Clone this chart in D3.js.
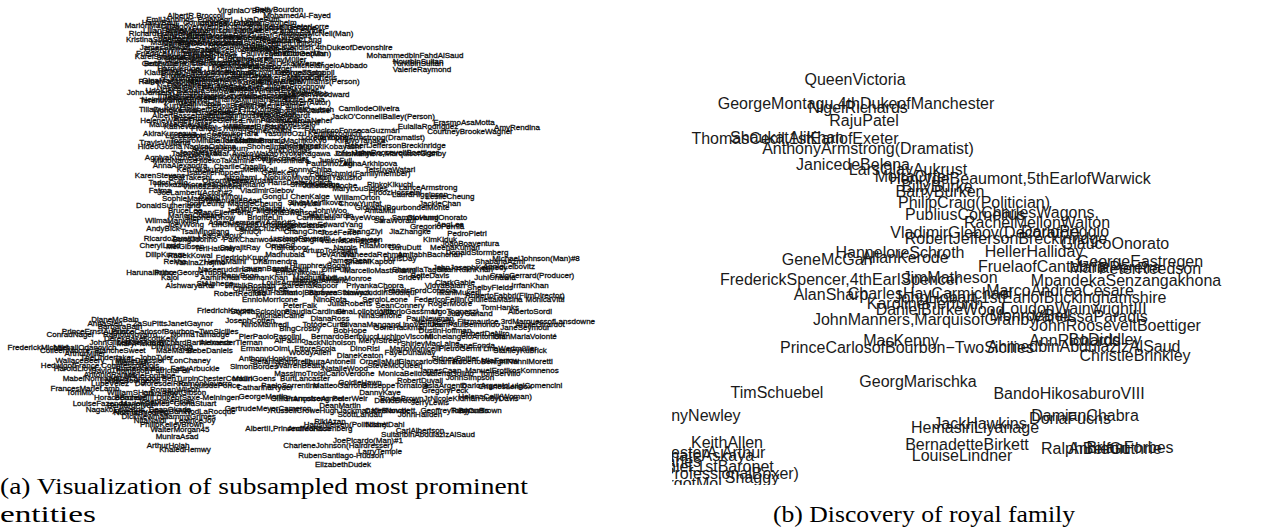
<!DOCTYPE html>
<html>
<head>
<meta charset="utf-8">
<script src="https://cdn.jsdelivr.net/npm/d3@7"></script>
<style>
  html, body { margin: 0; padding: 0; background: #fff; }
  svg { display: block; }
</style>
</head>
<body>
<svg id="fig" width="1264" height="531"></svg>
<script>
// Entity embeddings, two panels. Each entry: [name, x, y] in embedding units.

// (a) subsampled most prominent entities — upper block
const topEntities = [
  ["AlbertR.Broccoli",19.6,1.5],["VirginiaO'Brien",24.4,1.0],["BettyBourdon",27.9,0.9],["MohamedAl-Fayed",29.7,1.5],
  ["MarionMarshall",15.2,2.5],["CharlesIofAustria",23.0,2.3],["LouisE.Gelsone",28.8,2.7],["AnthonyMcNeil(Man)",31.6,3.3],
  ["RichardHoratioNelson",16.8,3.3],["JanPeerce",17.8,3.8],["HughGrosvenor",21.5,3.6],["PeterSellers",24.5,3.7],
  ["FredAstaire",28.0,4.0],["EdwardWoodward",21.0,4.2],["WilliamCavendish,4thDukeofDevonshire",32.1,4.7],
  ["JamesStewart",16.5,4.7],["RobertMitchum",23.5,4.5],["CaryGrant",20.0,5.0],["MohammedbinFahdAlSaud",41.5,5.5],
  ["MarkCohen(Man)",30.0,5.3],["KarelSvoboda",16.0,5.6],["ElizabethTaylor",21.0,5.5],["SophiaLoren",25.0,5.8],
  ["NourbinSultan",41.8,6.1],["TurkibinSultan",41.8,6.3],["ValerieRaymond",42.2,6.9],["MichelangeloAbbado",33.0,6.5],
  ["BobbyDarin",16.5,6.3],["EllaFitzgerald",21.5,6.2],["GretaGarbo",26.0,6.6],["GeorgeZastoupil",30.5,7.2],
  ["HenryFonda",18.0,7.0],["IngridBergman",23.0,7.2],["MarcoCarteris",31.2,7.7],["BrianWilliams(Person)",32.0,8.1],
  ["OlgaMakarova",16.8,8.0],["RitaHayworth",21.5,7.9],["KarenBlixen",26.0,8.2],["JohnJansen(Director)",16.5,9.2],
  ["FrankSinatra",22.5,8.8],["ElizabethWoodward",31.4,9.4],["EddieGibb",31.0,9.3],["TerentiyShtykov",16.8,10.0],
  ["ClarenceDown",22.5,9.6],["AlbertEinstein",27.0,9.6],["JeanMarais",20.0,10.3],["FilmMaker(Actor)",30.0,10.2],
  ["WongKarwai",17.5,11.0],["CamilodeOliveira",36.9,10.8],["SanchoIofCastile",30.0,11.0],["NelsonSaah",27.5,11.4],
  ["GraceKelly",21.5,11.2],["JackO'ConnellBailey(Person)",38.3,11.6],["AdolfRubin",28.0,11.9],["RobertoRossellini",20.5,11.8],
  ["AnnaMagnani",19.0,3.0],["LouisJouvet",24.0,3.0],["MarcelPagnol",17.5,4.2],["JeanGabin",26.0,4.8],
  ["SimoneSignoret",18.5,5.7],["YvesMontand",23.5,6.5],["BrigitteBardot",18.5,7.5],["AlainDelon",25.0,7.5],
  ["CatherineDeneuve",20.0,8.5],["GérardDepardieu",26.5,8.8],["JeanneMoreau",19.0,9.7],["ÉdithPiaf",25.0,10.4],
  ["CharlesAznavour",24.0,11.2],["MauriceChevalier",18.0,12.4]
];

// (a) upper block, second layer
const topEntities2 = [
  ["EmilJannings",17.0,1.9],["PolaNegri",21.5,1.9],["LyaDePutti",26.0,1.9],
  ["HarryBaur",16.0,2.2],["ConradVeidt",20.5,2.2],["ErichvonStroheim",26.5,2.2],
  ["LilDagover",18.0,2.6],["WernerKrauss",22.5,2.6],["BrigitteHelm",27.0,2.6],["PeterLorre",31.0,2.6],
  ["LilianHarvey",16.5,3.0],["WillyFritsch",21.0,3.0],["HansAlbers",25.5,3.0],["ZarahLeander",30.0,3.0],
  ["HeinzRühmann",18.5,3.5],["MarikaRökk",23.0,3.5],["GustafGründgens",28.0,3.5],
  ["KristinaSöderbaum",16.0,3.9],["VeitHarlan",21.5,3.9],["LeniRiefenstahl",26.0,3.9],["FritzLang",30.5,3.9],
  ["MarleneDietrich",19.0,4.3],["JosefvonSternberg",24.5,4.3],["ErnstLubitsch",29.5,4.3],
  ["GeorgWilhelmPabst",18.0,4.9],["LouiseBrooks",23.0,4.9],["AstaNielsen",27.5,4.9],
  ["FriedrichMurnau",16.5,5.3],["MaxSchreck",21.5,5.3],["PaulWegener",26.5,5.3],["OttoGebühr",30.5,5.3],
  ["HildegardKnef",19.0,5.9],["CurdJürgens",24.0,5.9],["RomyMüller",28.5,5.9],
  ["GertFröbe",16.0,6.3],["HorstBuchholz",20.5,6.3],["MariaSchell",25.5,6.3],["OskarWerner",30.0,6.3],
  ["HardyKrüger",18.0,6.8],["LiloPulver",22.5,6.8],["SentaBerger",27.0,6.8],
  ["KlausKinski",16.5,7.2],["MarioAdorf",21.0,7.2],["HannaSchygulla",25.5,7.2],["BrunoGanz",30.5,7.2],
  ["WimWenders",19.5,7.7],["WernerHerzog",24.5,7.7],["VolkerSchlöndorff",29.0,7.7],
  ["RainerFassbinder",17.0,8.1],["MargarethevonTrotta",22.5,8.1],["ArminMueller",28.0,8.1],
  ["NastassjaKinski",18.5,8.6],["MarthaKeller",24.0,8.6],["JürgenProchnow",29.5,8.6],
  ["UdoKier",16.0,9.0],["BarbaraSukowa",20.5,9.0],["AngelaWinkler",25.5,9.0],["EvaMattes",30.0,9.0],
  ["IrmHermann",18.0,9.5],["IngridCaven",22.5,9.5],["UllaJacobsson",27.0,9.5],
  ["HelmutGriem",16.5,9.9],["ErikaPluhar",21.0,9.9],["MaximilianSchell",26.0,9.9],["LotteLenya",30.5,9.9],
  ["KurtWeill",18.0,10.5],["BertoltBrecht",23.0,10.5],["HelenePalmer",28.0,10.5],
  ["TillaDurieux",16.0,10.9],["ElisabethBergner",21.0,10.9],["FritzKortner",26.0,10.9],["ErnstDeutsch",31.0,10.9],
  ["AlbertBassermann",18.5,11.5],["EmilJanningsJr",23.5,11.5],["MaxReinhardt",28.5,11.5],
  ["HeleneWeigel",16.5,12.0],["ThereseGiehse",21.5,12.0],["ErwinPiscator",26.5,12.0],["CarolaNeher",31.0,12.0],
  ["KäthevonNagy",19.0,12.6],["WilliForst",24.0,12.6],["PaulaWessely",29.0,12.6]
];

// (a) middle block
const midEntities = [
  ["EulaliaRodriguez",42.8,12.6],["ErasmoAsaMotta",46.4,12.2],["AmyRendina",51.7,12.7],["CourtneyBrookeWagner",47.0,13.1],
  ["MichaelBrodsky",25.7,12.6],["FranciscoFonsecaGuzmán",35.2,13.0],["AnthonyArmstrong(Dramatist)",37.2,13.7],
  ["LorettaYoung",32.5,13.7],["RobertJeffersonBreckinridge",39.5,14.5],["JohnRooseveltBoettiger",39.6,15.2],
  ["JohnManners,MarquisofGranby",39.0,15.3],["TravisWilliams",16.5,14.2],["LeopoldStokowski",21.0,13.5],
  ["MarlonBrando",26.0,14.0],["AudreyHepburn",22.0,14.8],["KirkDouglas",29.0,15.0],["AgniyaKuznetsova",17.8,15.7],
  ["VivienLeigh",25.0,15.6],["AnnaAlexandra",18.0,16.5],["PaulDinoZegl",33.0,16.3],["AnnaArkhipova",37.0,16.3],
  ["CharlieChaplin",24.0,16.6],["KarenStevens",16.0,17.5],["PaulSchmid(Familymember)",36.0,17.3],["GeneKelly",28.0,17.2],
  ["TodorCvijic",16.8,18.2],["HansDieterAldrich",30.0,18.2],["OrsonWelles",22.5,18.0],["Fatma",16.0,19.0],
  ["JoeLambert(Actor)#2",19.5,19.2],["VladimirGlebov",26.7,19.0],["MaryLouSiddes",36.0,18.8],["LanceArmstrong",42.8,18.7],
  ["FiroozHosseini",39.5,19.2],["LauraHigginson",42.0,19.4],["VilmosZsigmond",21.2,18.6],["WilliamOrton",35.7,19.7],
  ["SilviaMelnikova",31.5,20.2],["DonaldSutherland",16.8,20.5],["GiovanniBourbondelMonte",40.2,20.7],
  ["MaryEllenPorter",22.5,21.2],["GloriaSwanson",29.0,21.2],["WilmaMankiller",17.2,22.0],["AdamDempsey(Actor)#2",25.2,22.2],
  ["SaraWorauf",39.5,22.0],["GiovanniOnorato",43.7,21.7],["AndyBick",16.3,22.8],["CarlosCruzRibes",26.5,22.8],
  ["GregorioPernia",43.7,22.6],["RicardoZarattini",17.2,23.8],["PedroPietri",46.7,23.3],["JoséFerrer",34.0,23.2],
  ["LucianoPavarotti",30.0,23.8],["CherylLadd",16.0,24.5],["MelGibson",18.5,24.6],["TeriHatcher",21.5,24.8],
  ["JoãoBoaventura",47.0,24.3],["RitaMoreno",38.0,24.5],["ArturoToscanini",33.0,25.0],["DonaldStormberg",47.7,25.2],
  ["RadekKowal",19.0,25.5],["FriedrichKrupp",24.2,25.7],["MichaelJohnson(Man)#8",53.6,25.8],["YaninaZhejmo",20.0,26.2],
  ["AnnieLeibovitz",50.9,26.6],["JohnJosephKennedy",47.0,26.7],["PrinceGeorgeTupou",19.0,27.2],["ErnstNikolaus",30.0,27.2],
  ["HarunaIikubo",15.0,27.2],["CraigGerrard(Producer)",53.2,27.5],["MarcelloMastroianni",38.0,27.0],["StAlphege",21.5,28.3],
  ["LouisArmstrong",29.0,28.2],["ShelbyFields",49.0,28.7],["ChristopherLee",26.0,28.8],["RobertRedford",24.0,29.3],
  ["RobertoFabbri(FilmDirector)",51.5,29.5],["BarbaraStanwyck",34.0,29.2],["FrancisFordCoppola",42.0,29.0],
  ["JamesDean",35.0,26.0],["DorisDay",40.0,25.8],["BetteDavis",43.0,27.5],["HumphreyBogart",32.0,26.5],
  ["LaurenBacall",26.5,26.8],["ClarkGable",45.5,28.2],["MarilynMonroe",34.5,27.8],
  ["FrançoisTruffaut",22.0,12.8],["JeanRenoir",30.0,12.2],["LucBesson",18.5,13.5],["AgnèsVarda",27.0,13.0],
  ["ClaudeChabrol",23.5,14.0],["ÉricRohmer",30.0,14.5],["JacquesTati",20.0,15.2],["RomySchneider",28.0,15.8],
  ["IsabelleHuppert",21.5,17.2],["FannyArdant",25.0,18.0],["JulietteBinoche",33.0,18.5],["SophieMarceau",19.0,19.8],
  ["EmmanuelleBéart",23.0,20.0],["AudreyTautou",26.0,20.8],["JeanDujardin",33.0,21.5],["MarionCotillard",19.5,21.5],
  ["VincentCassel",30.0,22.5],["LéaSeydoux",22.0,23.5],["OmarSy",28.0,24.5],["ValérieLemercier",35.0,24.0],
  ["DanyBoon",24.0,27.5],["MathieuAmalric",32.0,28.0]
];

// (a) middle block, second layer
const midEntities2 = [
  ["AkiraKurosawa",17.0,13.3],["SetsukoHara",23.5,13.3],["YasujiroOzu",28.5,13.3],["KenjiMizoguchi",33.5,13.3],
  ["ToshiroMifune",19.5,14.0],["TakashiShimura",25.0,14.0],["MachikoKyo",30.5,14.0],["KinuyoTanaka",36.0,14.0],
  ["HideoGosha",16.0,14.6],["NagisaOshima",21.0,14.6],["ShoheiImamura",27.5,14.6],["MasakiKobayashi",33.0,14.6],
  ["TatsuyaNakadai",20.0,15.3],["AyakoWakao",25.5,15.3],["KyokoKagawa",30.5,15.3],["ChishuRyu",35.5,15.3],
  ["MikioNaruse",17.5,16.0],["HidekoTakamine",22.5,16.0],["YujiroIshihara",28.5,16.0],["JunkoFuji",33.5,16.0],
  ["KenTakakura",20.0,16.9],["MeikoKaji",26.0,16.9],["SonnyChiba",31.0,16.9],["TetsuyaWatari",39.0,16.9],
  ["BeatTakeshi",19.0,17.7],["JuzoItami",24.0,17.7],["NobukoMiyamoto",29.5,17.7],["KojiYakusho",34.0,17.7],
  ["HirokazuKoreeda",18.5,18.4],["TakeshiKitano",24.0,18.4],["ShioriKutsuna",31.5,18.4],["RinkoKikuchi",39.0,18.4],
  ["ZhangYimou",22.0,19.6],["GongLi",27.5,19.6],["ChenKaige",31.0,19.6],["LeslieCheung",45.0,19.6],
  ["TonyLeung",20.5,20.3],["MaggieCheung",25.5,20.3],["AndyLau",30.5,20.3],["ChowYunfat",36.0,20.3],["JackieChan",44.0,20.3],
  ["BruceLee",18.5,21.0],["JetLi",23.5,21.0],["MichelleYeoh",28.0,21.0],["JohnWoo",33.0,21.0],["AnitaMui",38.0,21.0],
  ["StephenChow",21.0,21.7],["BrigitteLin",26.5,21.7],["CarinaLau",31.5,21.7],["FayeWong",36.5,21.7],["SammoHung",41.5,21.7],
  ["JoeyWong",18.5,22.4],["LinChingHsia",23.5,22.4],["HouHsiaohsien",29.0,22.4],["EdwardYang",34.0,22.4],["AngLee",45.0,22.4],
  ["TsaiMingliang",20.5,23.1],["ShuQi",25.0,23.1],["ChangChen",30.5,23.1],["ZhangZiyi",36.5,23.1],["JiaZhangke",41.0,23.1],
  ["BongJoonho",19.5,23.9],["ParkChanwook",25.0,23.9],["SongKangho",30.0,23.9],["JeonDoyeon",36.0,23.9],["KimKiduk",44.0,23.9],
  ["SatyajitRay",24.0,24.7],["RajKapoor",29.0,24.7],["Nargis",34.5,24.7],["GuruDutt",40.5,24.7],["MeenaKumari",45.5,24.7],
  ["DilipKumar",16.5,25.4],["Madhubala",28.5,25.4],["DevAnand",33.5,25.4],["WaheedaRehman",37.5,25.4],["AmitabhBachchan",43.0,25.4],
  ["Rekha",17.5,26.1],["HemaMalini",22.5,26.1],["Dharmendra",27.5,26.1],["ShashiKapoor",37.0,26.1],["ShabanaAzmi",50.0,26.1],
  ["NaseeruddinShah",23.0,26.9],["SmitaPatil",29.0,26.9],["OmPuri",33.5,26.9],["SharmilaTagore",42.0,26.9],["ShahRukhKhan",46.5,26.9],
  ["Kajol",17.0,27.7],["AamirKhan",22.0,27.7],["SalmanKhan",26.5,27.7],["MadhuriDixit",31.5,27.7],["Sridevi",41.0,27.7],["JuhiChawla",49.5,27.7],
  ["AishwaryaRai",19.0,28.5],["HrithikRoshan",25.0,28.5],["KareenaKapoor",31.0,28.5],["PriyankaChopra",37.5,28.5],["VidyaBalan",44.5,28.5],["IrrfanKhan",53.0,28.5],
  ["TabuHashmi",27.5,29.2],["ManojBajpayee",31.0,29.2],["NawazuddinSiddiqui",38.0,29.2],["RaniMukerji",46.0,29.2]
];

// (a) lower-right block
const lowEntities = [
  ["FriedrichKayser",22.5,31.0],["JosephCotten",25.0,32.0],["HenryPetty-Fitzmaurice,3rdMarquessofLansdowne",50.5,32.1],
  ["JaneSeymour",52.5,32.7],["AlexanderTiernan",23.1,34.2],["AnthonyHopkins",26.8,35.8],["SimonBordes",25.4,36.6],
  ["ManuelErotikosKomnenos",51.2,37.0],["MauriGoens",25.4,37.8],["JohnSimpson",47.0,37.7],["CharlesLennox",50.5,38.6],
  ["CatharinaRyder",26.5,38.7],["GeorgeMartin",26.3,39.6],["FrançoiseArnoul",31.5,39.8],["HelenaCelli(Woman)",49.5,39.6],
  ["DavidBruce",39.5,40.0],["GertrudeMeyerCameron",26.8,40.8],["ScottLandau",36.0,41.4],["JohnHallden",42.0,41.4],
  ["RikiAzan",33.0,42.1],["AlbertII,PrinceofMonaco",28.8,42.8],["AndreaRosenberg",32.0,42.8],["HansNielsen(Politician)",34.5,42.4],
  ["NishetDahl",38.5,42.4],["CarlAlbertson",42.0,43.0],["SultanbinAbdulazizAlSaud",42.8,43.4],["JoePicardo(Man)#1",36.8,44.0],
  ["CharleneJohnson(Hairdresser)",33.8,44.5],["LarryTemple",38.0,45.1],["RubenSantiago-Hudson",34.1,45.5],["ElizabethDudek",34.3,46.4],
  ["PeterFalk",30.0,30.5],["JuliaRoberts",35.0,30.3],["SeanConnery",40.0,30.5],["RogerMoore",45.0,30.3],["TomHanks",50.0,30.7],
  ["MichaelCaine",28.0,31.5],["DianaRoss",33.0,31.8],["NinaSimone",38.0,31.5],["PaulNewman",43.0,31.8],["JudyGarland",47.0,31.3],
  ["BingCrosby",30.0,32.8],["BobHope",35.0,33.0],["GeneHackman",40.0,32.7],["DustinHoffman",44.5,33.0],["RobertDeNiro",48.5,33.3],
  ["AlPacino",29.0,34.0],["JackNicholson",33.0,34.2],["MerylStreep",38.0,34.0],["ShirleyMacLaine",43.0,34.3],["JaneFonda",47.5,34.5],
  ["StanleyKubrick",52.0,35.0],["WoodyAllen",31.0,35.2],["DianeKeaton",36.0,35.5],["FayeDunaway",41.0,35.2],
  ["SidneyPoitier",45.5,35.8],["MiaFarrow",50.0,36.0],["WarrenBeatty",30.0,36.5],["NatalieWood",34.5,36.8],
  ["SteveMcQueen",39.5,36.5],["JamesCaan",44.0,37.0],["RobertDuvall",42.0,38.0],["GoldieHawn",36.0,38.2],
  ["BurtLancaster",30.5,37.8],["GregoryPeck",44.5,39.0],["DannyKaye",38.0,39.2],["DeanMartin",34.0,40.5],
  ["JerryLewis",43.0,40.2],["TonyCurtis",47.0,41.0],["KimNovak",39.0,41.0]
];

// (a) lower-right block, second layer
const lowEntities2 = [
  ["EnnioMorricone",27.0,29.9],["NinoRota",33.0,29.9],["SergioLeone",38.5,29.9],["FedericoFellini",44.0,29.9],["GiuliettaMasina",49.5,29.9],["MonicaVitti",54.5,29.9],
  ["SophiaScicolone",26.0,31.1],["ClaudiaCardinale",31.5,31.1],["GinaLollobrigida",36.5,31.1],["VittorioGassman",41.0,31.1],["UgoTognazzi",45.5,31.1],["AlbertoSordi",53.0,31.1],
  ["NinoManfredi",26.5,32.4],["TotòdeCurtis",32.5,32.4],["SilvanaMangano",37.0,32.4],["LinoVentura",42.0,32.4],["JeanPaulBelmondo",46.5,32.4],["AnnieGirardot",54.0,32.4],
  ["PierPaoloPasolini",27.0,33.6],["BernardoBertolucci",34.5,33.6],["LuchinoVisconti",40.5,33.6],["MichelangeloAntonioni",46.5,33.6],["GianMariaVolonté",52.5,33.6],
  ["ErmannoOlmi",26.5,34.8],["EttoreScola",31.5,34.8],["DinoRisi",36.5,34.8],["MarioMonicelli",41.5,34.8],["PietroGermi",46.0,34.8],["LinaWertmüller",51.0,34.8],
  ["StefaniaSandrelli",28.0,36.1],["LauraAntonelli",33.0,36.1],["OrnellaMuti",38.0,36.1],["GiancarloGiannini",43.0,36.1],["RobertoBenigni",48.0,36.1],["NanniMoretti",53.0,36.1],
  ["MassimoTroisi",30.0,37.3],["CarloVerdone",35.0,37.3],["MonicaBellucci",40.5,37.3],["ValeriaGolino",45.0,37.3],["ToniServillo",50.0,37.3],
  ["PaoloSorrentino",29.0,38.5],["MatteoGarrone",34.0,38.5],["GiuseppeTornatore",39.5,38.5],["AsiaArgento",44.5,38.5],["DarioArgento",48.5,38.5],["LuigiComencini",53.5,38.5],
  ["GillianArmstrong",30.0,39.8],["PeterWeir",35.0,39.8],["BryanBrownJr",40.5,39.8],["NicoleKidman",45.5,39.8],["JudyDavis",50.0,39.8],
  ["RussellCrowe",29.5,41.0],["HughJackman",34.5,41.0],["CateBlanchett",39.0,41.0],["GeoffreyRush",44.5,41.0],["BryanBrown",48.0,41.0]
];

// (a) lower-left cluster
const clusterEntities = [
  ["DianeMcBain",11.5,31.9],["BarbaraBain",12.0,32.6],["PrinceErnstAugust",9.5,33.1],["PrinceCarlosofBourbon−TwoSicilies",17.5,33.1],
  ["DerekBaker",12.5,33.8],["ScottKelly",16.0,33.8],["FrederickMichael",3.8,34.7],["MikhailOdanovich",8.5,34.7],
  ["DimitriDaga",17.2,34.6],["ArthurMiller",8.5,35.3],["TheUndertaker",10.7,35.7],["JohnTyler",15.6,35.7],
  ["HedwigofFrance,CountessofBlois",10.0,36.5],["DavidThompson",12.0,37.0],["PatriciaFell",17.0,37.0],["AntonioRamos",11.0,37.4],
  ["MarieFontaine",15.0,37.5],["LouiseBourgeois",13.0,38.0],["FrancesMarieLamb",8.5,38.8],["RomanWilson",17.5,38.9],
  ["LouisdePonce",21.5,38.5],["HoraceBazelle",12.0,39.7],["BernhardIII,DukeofSaxe-Meiningen",17.7,39.7],["JosephinePolan",16.6,40.1],
  ["BernardPivot",13.0,40.5],["NagakoEdwards",11.5,40.9],["SeanOkada",17.0,40.9],["DickNewman",14.5,41.6],["TammyGrimes",19.0,41.6],
  ["PhilipKelleyBrown",17.2,42.4],["WalterMorgan45",18.0,42.9],["MuniraAsad",17.7,43.6],["ArthurHolah",16.8,44.5],
  ["KhaledHemwy",18.5,44.9],["MaryPickford",14.0,34.3],["LillianGish",13.0,36.2],["ClaraBow",16.0,39.3],["NormaShearer",14.0,41.2],
  ["AnnaSten",10.5,32.3],["ZaSuPitts",15.0,32.3],["JanetGaynor",19.0,32.3],
  ["ConradNagel",7.0,33.4],["RamonNovarro",13.0,33.4],["NormaTalmadge",20.0,33.4],
  ["JohnGilbert",11.0,34.2],["MaeMurray",14.5,34.2],["RichardBarthelmess",19.5,34.2],
  ["ColleenMoore",6.5,35.0],["BlancheSweet",12.0,35.0],["MaeMarsh",17.5,35.0],["BebeDaniels",21.0,35.0],
  ["WallaceBeery",8.0,36.0],["MarieDressler",14.0,36.0],["LonChaney",19.0,36.0],
  ["HaroldLloyd",7.5,36.8],["BusterKeaton",14.0,36.8],["FattyArbuckle",19.5,36.8],
  ["MabelNormand",9.0,37.8],["HarryLangdon",13.5,37.8],["BenTurpin",18.0,37.8],["ChesterConklin",22.5,37.8],
  ["LupeVélez",11.0,38.3],["DoloresdelRío",16.0,38.3],["RamónNovarro",20.5,38.3],
  ["TomMix",8.0,39.2],["WilliamSHart",13.0,39.2],["HootGibson",18.5,39.2],
  ["LouiseFazenda",10.0,40.3],["MarionDavies",14.5,40.3],["GloriaStuart",19.5,40.3],
  ["AliceTerry",13.0,41.1],["VilmaBánky",17.0,41.1],["RodLaRocque",21.0,41.1],
  ["NitaNaldi",15.0,42.0],["LeatriceJoy",19.5,42.0]
];

// (b) royal family neighbourhood
const royalEntities = [
  ["QueenVictoria",21.5,7.9],["GeorgeMontagu,4thDukeofManchester",21.6,10.3],["NigelRichards",21.8,10.7],["RajuPatel",22.4,12.0],
  ["ThomasCecil,1stEarlofExeter",15.5,13.8],["ShaukatAliKhan",14.7,13.7],["AnthonyArmstrong(Dramatist)",22.8,14.8],
  ["JanicedeBelena",21.3,16.4],["LarsOlavAukrust",26.8,16.9],["MoiraOrfei",27.2,17.6],["HenrydeBeaumont,5thEarlofWarwick",38.0,17.8],
  ["BillyBurke",29.7,18.6],["BarryBurken",30.0,19.1],["PhilipCraig(Politician)",33.4,20.2],["PubliusCornelius",32.5,21.4],
  ["CharlesWagons,",40.0,21.2],["RachelMellonWalton",39.7,22.2],["VladimirGlebov(Decorator)",34.5,23.2],["DarioPeggio",42.5,23.1],
  ["RobertJeffersonBreckinridge",36.6,23.8],["GlaucoOnorato",47.5,24.3],["HanneloreSchroth",26.0,25.2],["AllanKerode",26.5,25.7],
  ["HellerHalliday",39.4,25.1],["GeneMcGarr",18.8,25.9],["FruelaofCantabria",40.2,26.6],["GeorgeEastregen",50.0,26.1],
  ["MariaPereira",47.5,26.7],["PeterReedson",51.0,26.8],["FrederickSpencer,4thEarlSpencer",20.0,27.9],["JimMatheson",31.0,27.7],
  ["MpandekaSenzangakhona",48.6,28.0],["AlanSharp",19.1,29.4],["CharlesHayCarmichael",29.0,29.3],
  ["JohnHobart,1stEarlofBuckinghamshire",39.0,29.7],["MarcoAndreaCesare",42.0,29.0],["KarolineHerfurth",28.5,30.3],
  ["DanielBurkeWood",30.0,30.9],["LoudonWainwrightIII",43.4,30.8],["VanessaParadis",45.0,31.6],["MonroeBell",39.0,31.5],
  ["JohnManners,MarquisofGranby",28.5,31.9],["JohnRooseveltBoettiger",47.6,32.5],["MacKenny",26.1,34.0],["BoDiddley",46.5,33.9],
  ["AnnRichards",43.5,34.0],["PrinceCarlosofBourbon−TwoSicilies",26.7,34.7],["AhmedbinAbdulazizAlSaud",44.4,34.6],
  ["ChristieBrinkley",49.5,35.5],["TimSchuebel",13.7,39.2],["GeorgMarischka",27.8,38.1],["BandoHikosaburoVIII",42.9,39.3],
  ["AnthonyNewley",4.5,41.5],["KeithAllen",8.7,44.2],["ChesterA.Arthur",6.8,45.2],["RenateAskaya",6.2,45.5],
  ["JamesCharles",1.0,46.1],["SirJohnDaniel,1stBaronet",4.3,46.6],["JackJohnson(ProfessionalBoxer)",4.2,47.3],["Shaggy",11.2,47.7],
  ["MargotMol",4.4,48.3],["HemasiriLiyanage",33.5,42.7],["JackHawkins",34.0,42.3],["BernadetteBirkett",32.7,44.4],
  ["LouiseLindner",32.2,45.5],["DamianChabra",44.5,41.5],["DoriaFuchs",43.0,41.8],["RalphBelfort",44.5,44.8],
  ["AnnieGuthrie",47.5,44.8],["BrianForbes",49.0,44.7]
];

const captionA = ["(a) Visualization of subsampled most prominent", "entities"];
const captionB = "(b) Discovery of royal family";

const svg = d3.select("#fig");

// Panel (a) scales
const xA = d3.scaleLinear().domain([0, 58]).range([0, 580]);
const yA = d3.scaleLinear().domain([0, 48]).range([0, 480]);

// Panel (b) scales
const xB = d3.scaleLinear().domain([0, 58]).range([640, 1220]);
const yB = d3.scaleLinear().domain([0, 48]).range([0, 480]);

const gA = svg.append("g").attr("class", "panel-a");
const allA = [].concat(topEntities, topEntities2, midEntities, midEntities2, lowEntities, lowEntities2, clusterEntities);
gA.selectAll("text")
  .data(allA)
  .join("text")
  .attr("x", d => xA(d[1]))
  .attr("y", d => yA(d[2]))
  .attr("dy", "0.35em")
  .attr("text-anchor", "middle")
  .attr("font-family", "'Liberation Sans', Arial, sans-serif")
  .attr("font-size", 8)
  .attr("fill", "#0d0d0d")
  .attr("stroke", "#0d0d0d")
  .attr("stroke-width", 0.3)
  .text(d => d[0]);

// Panel (b) is clipped to its plotting region
svg.append("clipPath").attr("id", "clipB")
  .append("rect").attr("x", 672).attr("y", 0).attr("width", 592).attr("height", 485);

const gB = svg.append("g").attr("class", "panel-b").attr("clip-path", "url(#clipB)");
gB.selectAll("text")
  .data(royalEntities)
  .join("text")
  .attr("x", d => xB(d[1]))
  .attr("y", d => yB(d[2]))
  .attr("dy", "0.35em")
  .attr("text-anchor", "middle")
  .attr("font-family", "'Liberation Sans', Arial, sans-serif")
  .attr("font-size", 16)
  .attr("fill", "#1a1a1a")
  .text(d => d[0]);

// Captions
const capFont = "'Liberation Serif', 'DejaVu Serif', serif";
svg.append("text")
  .attr("x", 0).attr("y", 494)
  .attr("font-family", capFont).attr("font-size", 23)
  .attr("textLength", 528).attr("lengthAdjust", "spacingAndGlyphs")
  .attr("fill", "#000")
  .text(captionA[0]);
svg.append("text")
  .attr("x", 0).attr("y", 522)
  .attr("font-family", capFont).attr("font-size", 23)
  .attr("textLength", 96).attr("lengthAdjust", "spacingAndGlyphs")
  .attr("fill", "#000")
  .text(captionA[1]);
svg.append("text")
  .attr("x", 773).attr("y", 522)
  .attr("font-family", capFont).attr("font-size", 23)
  .attr("textLength", 302).attr("lengthAdjust", "spacingAndGlyphs")
  .attr("fill", "#000")
  .text(captionB);
</script>
</body>
</html>
